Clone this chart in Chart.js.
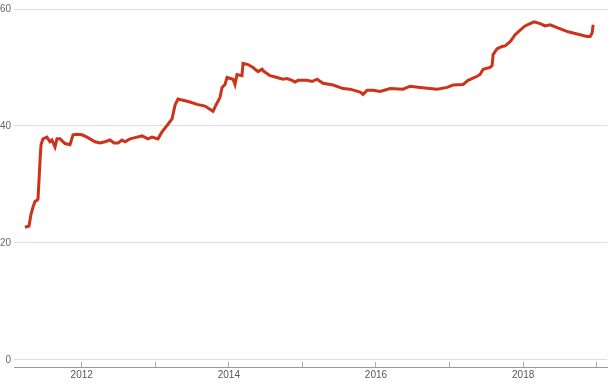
<!DOCTYPE html>
<html>
<head>
<meta charset="utf-8">
<script src="https://cdn.jsdelivr.net/npm/chart.js@4"></script>
<style>
  html, body { margin: 0; padding: 0; background: #fff; }
  #wrap { width: 609px; height: 384px; }
</style>
</head>
<body>
<div id="wrap"><canvas id="line-chart"></canvas></div>
<script>
// decimal years
var years = [
    2011.229, 2011.284, 2011.311, 2011.338, 2011.365, 2011.392, 2011.406, 2011.419, 2011.433, 2011.447,
    2011.474, 2011.528, 2011.569, 2011.596, 2011.637, 2011.664, 2011.705, 2011.773, 2011.841, 2011.882,
    2011.936, 2012.004, 2012.072, 2012.113, 2012.181, 2012.249, 2012.317, 2012.385, 2012.439, 2012.494,
    2012.548, 2012.589, 2012.657, 2012.752, 2012.820, 2012.901, 2012.956, 2013.037, 2013.092, 2013.173,
    2013.228, 2013.269, 2013.309, 2013.377, 2013.472, 2013.568, 2013.676, 2013.785, 2013.826, 2013.880,
    2013.908, 2013.948, 2013.976, 2014.057, 2014.084, 2014.111, 2014.179, 2014.193, 2014.261, 2014.329,
    2014.397, 2014.451, 2014.479, 2014.560, 2014.655, 2014.737, 2014.791, 2014.859, 2014.900, 2014.941,
    2015.063, 2015.131, 2015.199, 2015.281, 2015.417, 2015.553, 2015.648, 2015.784, 2015.825, 2015.879,
    2015.961, 2016.056, 2016.192, 2016.368, 2016.464, 2016.600, 2016.831, 2016.967, 2017.048, 2017.184,
    2017.252, 2017.375, 2017.415, 2017.456, 2017.551, 2017.578, 2017.592, 2017.646, 2017.714, 2017.755,
    2017.823, 2017.864, 2017.891, 2017.959, 2018.027, 2018.095, 2018.150, 2018.231, 2018.299, 2018.367,
    2018.462, 2018.612, 2018.680, 2018.870, 2018.911, 2018.938, 2018.952
]
var values = [
    22.7, 22.9, 24.9, 26.1, 27.1, 27.3, 27.5, 30.5, 33.9, 36.8,
    37.8, 38.1, 37.3, 37.6, 36.4, 37.8, 37.8, 37.0, 36.8, 38.5,
    38.6, 38.5, 38.1, 37.8, 37.3, 37.1, 37.3, 37.6, 37.1, 37.1,
    37.6, 37.3, 37.8, 38.1, 38.3, 37.8, 38.1, 37.8, 39.0, 40.3,
    41.2, 43.6, 44.6, 44.4, 44.1, 43.7, 43.4, 42.5, 43.6, 44.9,
    46.6, 47.1, 48.3, 48.0, 47.1, 48.8, 48.6, 50.7, 50.5, 50.0,
    49.3, 49.7, 49.3, 48.6, 48.3, 48.0, 48.1, 47.8, 47.5, 47.8,
    47.8, 47.6, 48.0, 47.3, 47.0, 46.4, 46.3, 45.8, 45.4, 46.1,
    46.1, 45.9, 46.4, 46.3, 46.8, 46.6, 46.3, 46.6, 47.0, 47.1,
    47.8, 48.5, 48.8, 49.7, 50.0, 50.3, 52.2, 53.2, 53.6, 53.7,
    54.4, 55.1, 55.6, 56.4, 57.1, 57.5, 57.8, 57.5, 57.1, 57.3,
    56.8, 56.1, 55.9, 55.3, 55.3, 55.9, 57.3
]
var yTicks = [0, 20, 40, 60]
var xLabelYears = [2012, 2014, 2016, 2018]

var points = years.map((v, i) => ({ x: v, y: values[i] }))

var data = {
    datasets: [
        {
            label: 'value',
            data: points,
            borderColor: '#cc3318',
            borderWidth: 3,
            pointRadius: 0,
            tension: 0,
            fill: false
        }
    ]
}

var options = {
    type: 'line',
    data: data,
    options: {
        responsive: true,
        maintainAspectRatio: false,
        animation: false,
        layout: {
            autoPadding: false,
            padding: { top: 6, right: 2, bottom: 0, left: 0 }
        },
        scales: {
            x: {
                type: 'linear',
                min: 2011.08,
                max: 2019.14,
                afterFit: s => { s.height = 17 },
                grid: {
                    drawOnChartArea: false,
                    drawTicks: true,
                    tickLength: -5,
                    color: '#aaa'
                },
                border: { display: true, color: '#999' },
                ticks: {
                    stepSize: 1,
                    includeBounds: false,
                    autoSkip: false,
                    maxRotation: 0,
                    padding: 7,
                    color: '#555',
                    font: { family: 'Liberation Sans, Arial, sans-serif', size: 10 },
                    callback: v => xLabelYears.includes(v) ? String(v) : ''
                }
            },
            y: {
                min: -1.2,
                max: 60,
                afterFit: s => { s.width = 14 },
                grid: {
                    drawTicks: false,
                    color: '#ddd'
                },
                border: { display: false },
                ticks: {
                    stepSize: 20,
                    includeBounds: false,
                    padding: 3,
                    color: '#666',
                    font: { family: 'Liberation Sans, Arial, sans-serif', size: 10 },
                    callback: v => yTicks.includes(v) ? String(v) : ''
                }
            }
        },
        plugins: {
            legend: { display: false },
            tooltip: { enabled: false },
            title: { display: false }
        }
    }
}

var ctx = document.getElementById('line-chart').getContext('2d')
var chart = new Chart(ctx, options)
</script>
</body>
</html>
